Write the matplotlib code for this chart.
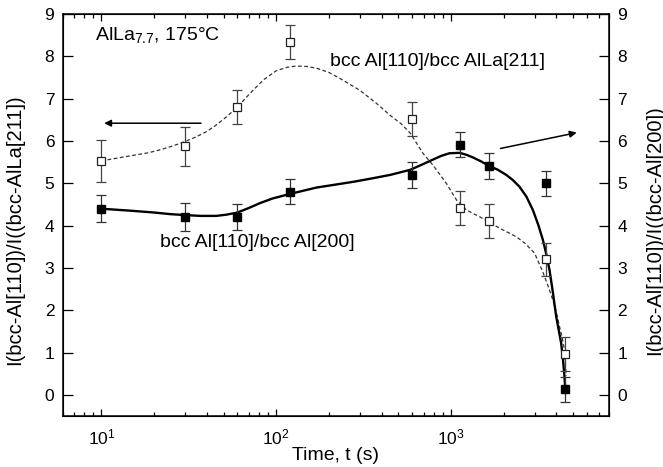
import matplotlib
matplotlib.use("Agg")
import matplotlib.pyplot as plt

plt.rcParams['font.family'] = ['Liberation Sans', 'DejaVu Sans']
plt.rcParams['mathtext.fontset'] = 'custom'
plt.rcParams['mathtext.rm'] = 'Liberation Sans'
plt.rcParams['mathtext.it'] = 'Liberation Sans:italic'

# measured points
time_s = [10, 30, 60, 120, 600, 1120, 1650, 3500, 4500]
ratio_alla211 = [5.53, 5.87, 6.80, 8.33, 6.51, 4.41, 4.10, 3.20, 0.96]
err_alla211 = [0.50, 0.45, 0.40, 0.40, 0.40, 0.40, 0.40, 0.40, 0.40]
ratio_al200 = [4.40, 4.20, 4.20, 4.80, 5.20, 5.91, 5.41, 5.00, 0.13]
err_al200 = [0.32, 0.33, 0.30, 0.30, 0.30, 0.30, 0.30, 0.30, 0.30]

# guide curves
dash_t = [10, 12.5, 15.2, 18.5, 21.6, 25.5, 29.8, 34.5, 39.9, 45.5, 51.9, 60, 70.6, 84.2,
          100, 115, 130, 150, 170, 200, 231, 300, 374, 450, 520, 585, 690, 787, 939,
          1072, 1222, 1455, 1650, 1890, 2355, 2650, 3000, 3350, 3600, 3820, 4000, 4170,
          4320, 4450, 4550]
dash_y = [5.53, 5.60, 5.66, 5.72, 5.79, 5.88, 5.98, 6.09, 6.22, 6.38, 6.57, 6.80, 7.12, 7.44,
          7.66, 7.74, 7.77, 7.76, 7.72, 7.62, 7.48, 7.20, 6.89, 6.60, 6.40, 6.18, 5.71, 5.43,
          5.00, 4.61, 4.37, 4.21, 4.08, 3.94, 3.74, 3.58, 3.35, 2.90, 2.55, 2.24, 1.95,
          1.61, 1.35, 1.06, 0.45]
solid_t = [10, 15, 20, 25, 30, 37, 45.5, 52, 60, 70, 80.5, 95, 120, 170, 211, 280, 357,
           450, 585, 680, 787, 880, 980, 1120, 1230, 1334, 1480, 1650, 1850, 2065, 2250,
           2460, 2700, 2934, 3150, 3350, 3500, 3655, 3820, 3990, 4130, 4260, 4360, 4450,
           4500]
solid_y = [4.40, 4.35, 4.31, 4.27, 4.25, 4.23, 4.23, 4.26, 4.31, 4.42, 4.53, 4.64, 4.75,
           4.90, 4.96, 5.04, 5.12, 5.20, 5.32, 5.44, 5.56, 5.65, 5.71, 5.72, 5.67, 5.61,
           5.52, 5.41, 5.32, 5.20, 5.08, 4.92, 4.68, 4.37, 4.02, 3.66, 3.33, 2.95, 2.42,
           1.85, 1.52, 1.22, 0.85, 0.43, 0.13]

fig = plt.figure(figsize=(6.63, 4.67), dpi=100)
ax = fig.add_axes([0.0944, 0.109, 0.8242, 0.861])

ax.plot(dash_t, dash_y, color='#333333', lw=0.9, ls=(0, (3, 2)), zorder=2)
ax.plot(solid_t, solid_y, color='black', lw=1.7, zorder=2)

ax.errorbar(time_s, ratio_alla211, yerr=err_alla211, fmt='s', mfc='white', mec='#222222',
            mew=0.9, ms=6, ecolor='#444444', elinewidth=0.9, capsize=3.5, capthick=0.9, zorder=3)
ax.errorbar(time_s, ratio_al200, yerr=err_al200, fmt='s', mfc='black', mec='black',
            ms=6.3, ecolor='#333333', elinewidth=0.9, capsize=3.5, capthick=0.9, zorder=3)

ax.set_xscale('log')
ax.set_xlim(6, 8000)
ax.set_ylim(-0.5, 9)
ax.set_yticks(range(0, 10))
ax.tick_params(axis='y', which='major', direction='in', length=7, width=0.9, labelsize=12.5,
               left=True, right=True, pad=6)
ax.tick_params(axis='x', which='major', direction='in', length=5, width=0.9, labelsize=12.5,
               top=True, bottom=True, pad=8)
ax.tick_params(axis='x', which='minor', direction='in', length=3, width=0.9, top=True, bottom=True)
for s in ax.spines.values():
    s.set_linewidth(1.1)

ax.set_xlabel('Time, t (s)', fontsize=14, labelpad=0)
ax.set_ylabel('I(bcc-Al[110])/I((bcc-AlLa[211])', fontsize=14.5)
ax.yaxis.set_label_coords(-0.071, 0.463)

ax2 = ax.twinx()
ax2.set_ylim(-0.5, 9)
ax2.set_yticks(range(0, 10))
ax2.tick_params(axis='y', direction='in', length=7, width=0.9, labelsize=12.5, pad=6)
ax2.set_ylabel('I(bcc-Al[110])/I((bcc-Al[200])', fontsize=14.5)
ax2.yaxis.set_label_coords(1.066, 0.463)

ax.text(9.2, 8.5, 'AlLa$_{7.7}$, 175°C', fontsize=14, va='center', ha='left')
ax.text(204, 7.88, 'bcc Al[110]/bcc AlLa[211]', fontsize=14, va='center', ha='left')
ax.text(21.5, 3.6, 'bcc Al[110]/bcc Al[200]', fontsize=14, va='center', ha='left')

ax.annotate('', xy=(10, 6.42), xytext=(38.5, 6.42),
            arrowprops=dict(arrowstyle='-|>', color='black', lw=1.1, mutation_scale=10))
ax.annotate('', xy=(5420, 6.21), xytext=(1850, 5.81),
            arrowprops=dict(arrowstyle='-|>', color='black', lw=1.1, mutation_scale=10))

fig.savefig('out.png', dpi=100)
